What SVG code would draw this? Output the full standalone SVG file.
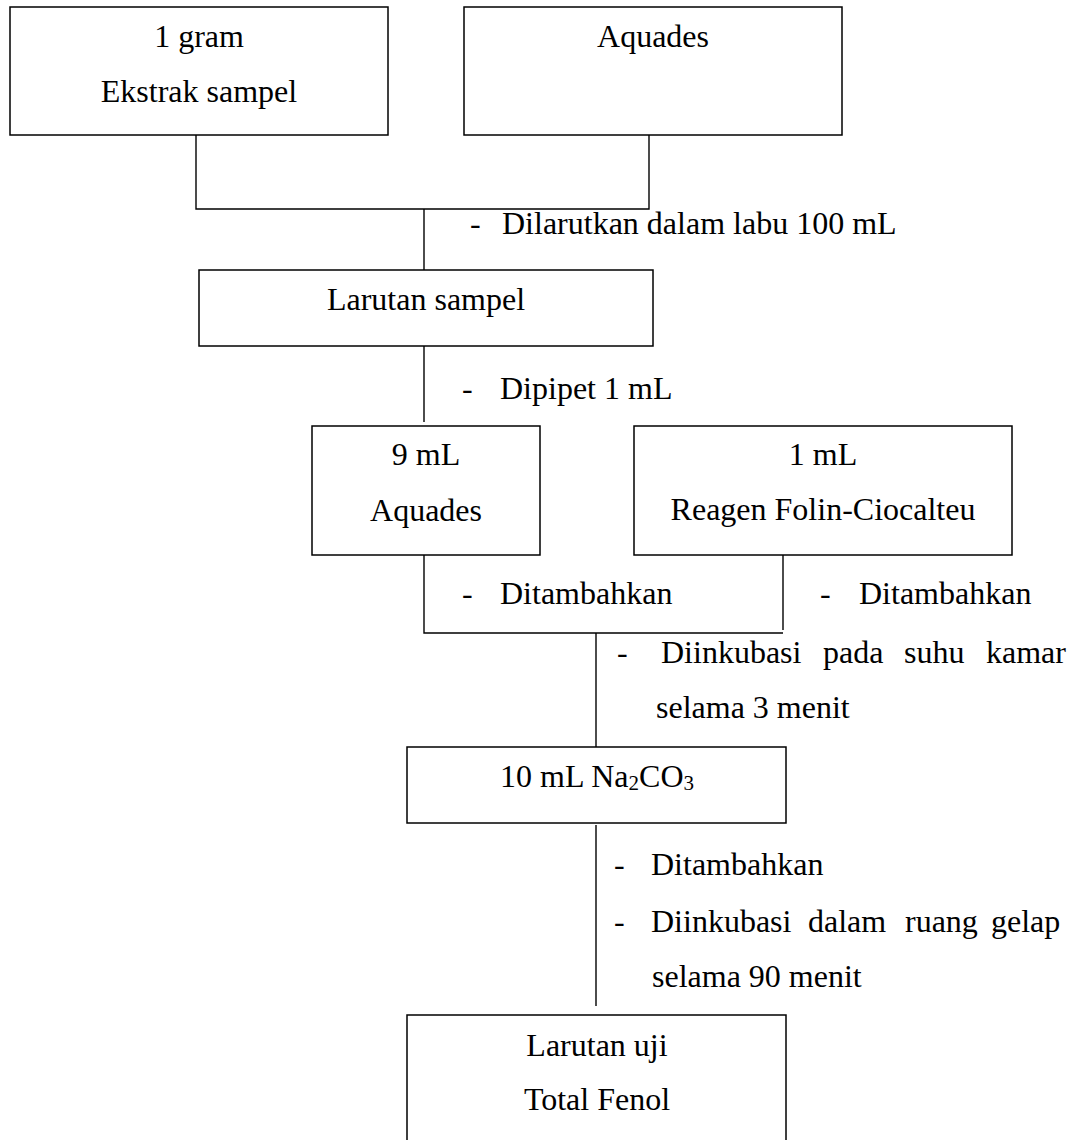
<svg xmlns="http://www.w3.org/2000/svg" width="1075" height="1140" viewBox="0 0 1075 1140">
<style>
.box{fill:#fff;stroke:#000;stroke-width:1.5}
.ln{fill:none;stroke:#000;stroke-width:1.4}
text{font-family:"Liberation Serif","Times New Roman",serif;font-size:32px;fill:#000}
.c{text-anchor:middle}
</style>
<rect width="1075" height="1140" fill="#fff"/>
<g id="connectors">
<polyline class="ln" points="196,135 196,209 649,209 649,135"/>
<line class="ln" x1="424" y1="209" x2="424" y2="270"/>
<line class="ln" x1="424" y1="346" x2="424" y2="422"/>
<polyline class="ln" points="424,555 424,633 783,633"/>
<line class="ln" x1="783" y1="555" x2="783" y2="630"/>
<line class="ln" x1="596" y1="633" x2="596" y2="747"/>
<line class="ln" x1="596" y1="825" x2="596" y2="1006"/>
</g>
<g id="labels">
<text x="470" y="234">-</text><text x="502" y="234">Dilarutkan dalam labu 100 mL</text>
<text x="462" y="399">-</text><text x="500" y="399">Dipipet 1 mL</text>
<text x="462" y="604">-</text><text x="500" y="604">Ditambahkan</text>
<text x="820" y="604">-</text><text x="859" y="604">Ditambahkan</text>
<text x="617" y="663">-</text>
<text y="663"><tspan x="661">Diinkubasi</tspan><tspan x="823">pada</tspan><tspan x="904">suhu</tspan><tspan x="986">kamar</tspan></text>
<text x="656" y="718">selama 3 menit</text>
<text x="614" y="875">-</text><text x="651" y="875">Ditambahkan</text>
<text x="614" y="932">-</text>
<text y="932"><tspan x="651">Diinkubasi</tspan><tspan x="808">dalam</tspan><tspan x="905">ruang</tspan><tspan x="991">gelap</tspan></text>
<text x="652" y="987">selama 90 menit</text>
</g>
<g id="node-ekstrak">
<rect class="box" x="10" y="7" width="378" height="128"/>
<text class="c" x="199" y="47">1 gram</text>
<text class="c" x="199" y="102">Ekstrak sampel</text>
</g>
<g id="node-aquades">
<rect class="box" x="464" y="7" width="378" height="128"/>
<text class="c" x="653" y="47">Aquades</text>
</g>
<g id="node-larutan-sampel">
<rect class="box" x="199" y="270" width="454" height="76"/>
<text class="c" x="426" y="310">Larutan sampel</text>
</g>
<g id="node-9ml">
<rect class="box" x="312" y="426" width="228" height="129"/>
<text class="c" x="426" y="465">9 mL</text>
<text class="c" x="426" y="521">Aquades</text>
</g>
<g id="node-folin">
<rect class="box" x="634" y="426" width="378" height="129"/>
<text class="c" x="823" y="465">1 mL</text>
<text class="c" x="823" y="520">Reagen Folin-Ciocalteu</text>
</g>
<g id="node-na2co3">
<rect class="box" x="407" y="747" width="379" height="76"/>
<text class="c" x="597" y="787">10 mL Na<tspan font-size="21" dy="3">2</tspan><tspan dy="-3">CO</tspan><tspan font-size="21" dy="3">3</tspan></text>
</g>
<g id="node-larutan-uji">
<rect class="box" x="407" y="1015" width="379" height="200"/>
<text class="c" x="597" y="1056">Larutan uji</text>
<text class="c" x="597" y="1110">Total Fenol</text>
</g>
</svg>
